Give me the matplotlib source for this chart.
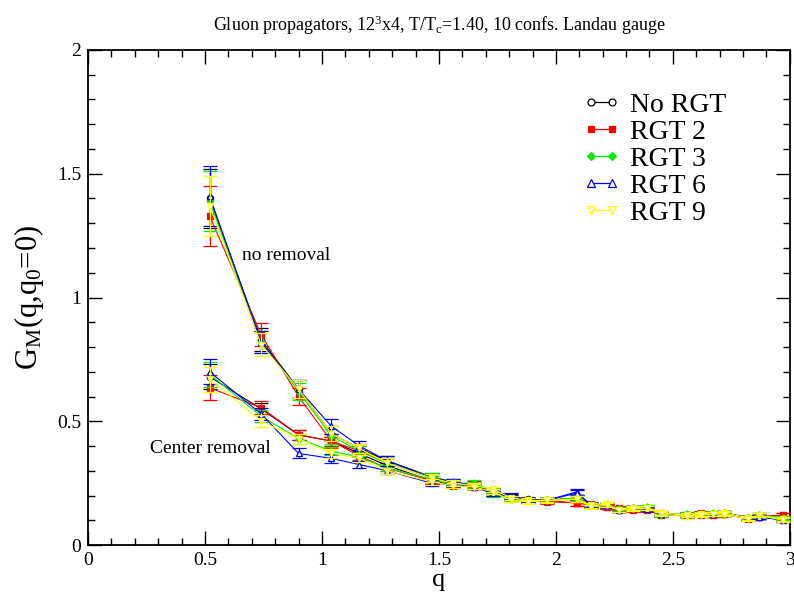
import matplotlib
matplotlib.use("Agg")
import matplotlib.pyplot as plt
from matplotlib.lines import Line2D
from matplotlib.ticker import MultipleLocator, FuncFormatter

plt.rcParams['font.family'] = ['Liberation Serif', 'DejaVu Serif']
plt.rcParams['mathtext.fontset'] = 'custom'
plt.rcParams['mathtext.rm'] = 'Liberation Serif'
plt.rcParams['mathtext.it'] = 'Liberation Serif'

# Momentum values
q = [0.52, 0.74, 0.90, 1.04, 1.16, 1.28, 1.47, 1.56, 1.65, 1.73, 1.81, 1.88, 1.96,
     2.09, 2.15, 2.22, 2.27, 2.33, 2.39, 2.45, 2.56, 2.62, 2.67, 2.72, 2.82, 2.87, 2.97]

labels = ["No RGT", "RGT 2", "RGT 3", "RGT 6", "RGT 9"]

# Full configurations (no removal)
full_norgt = [1.40, 0.83, 0.63, 0.45, 0.39, 0.34, 0.275, 0.255, 0.24, 0.22, 0.195, 0.185, 0.18,
              0.19, 0.16, 0.16, 0.14, 0.15, 0.145, 0.125, 0.12, 0.125, 0.125, 0.13, 0.11, 0.12, 0.105]
full_rgt2 = [1.33, 0.85, 0.60, 0.42, 0.38, 0.33, 0.27, 0.25, 0.245, 0.215, 0.19, 0.18, 0.18,
             0.17, 0.165, 0.155, 0.15, 0.14, 0.15, 0.13, 0.12, 0.13, 0.12, 0.125, 0.11, 0.115, 0.12]
full_rgt3 = [1.39, 0.82, 0.62, 0.44, 0.38, 0.33, 0.275, 0.25, 0.25, 0.22, 0.19, 0.18, 0.18,
             0.19, 0.16, 0.16, 0.145, 0.15, 0.155, 0.125, 0.125, 0.125, 0.13, 0.13, 0.11, 0.12, 0.11]
full_rgt6 = [1.41, 0.82, 0.63, 0.48, 0.40, 0.34, 0.27, 0.255, 0.24, 0.215, 0.2, 0.18, 0.18,
             0.215, 0.16, 0.16, 0.14, 0.15, 0.145, 0.125, 0.12, 0.125, 0.125, 0.13, 0.11, 0.115, 0.1]
full_rgt9 = [1.37, 0.81, 0.63, 0.45, 0.39, 0.33, 0.27, 0.25, 0.24, 0.225, 0.19, 0.18, 0.18,
             0.185, 0.16, 0.165, 0.14, 0.15, 0.15, 0.13, 0.12, 0.125, 0.125, 0.13, 0.11, 0.12, 0.105]

# Center-removed configurations
cr_norgt = [0.68, 0.55, 0.445, 0.42, 0.37, 0.32, 0.26, 0.245, 0.235, 0.21, 0.19, 0.18, 0.18,
            0.19, 0.16, 0.16, 0.14, 0.15, 0.145, 0.125, 0.12, 0.125, 0.125, 0.125, 0.11, 0.115, 0.105]
cr_rgt2 = [0.635, 0.555, 0.445, 0.42, 0.36, 0.31, 0.26, 0.24, 0.235, 0.21, 0.185, 0.18, 0.175,
           0.17, 0.16, 0.155, 0.145, 0.145, 0.14, 0.12, 0.12, 0.12, 0.12, 0.125, 0.105, 0.115, 0.12]
cr_rgt3 = [0.69, 0.52, 0.43, 0.38, 0.355, 0.31, 0.265, 0.245, 0.24, 0.205, 0.185, 0.18, 0.18,
           0.19, 0.16, 0.16, 0.145, 0.15, 0.155, 0.12, 0.125, 0.125, 0.125, 0.125, 0.11, 0.115, 0.11]
cr_rgt6 = [0.70, 0.53, 0.37, 0.35, 0.325, 0.30, 0.25, 0.245, 0.235, 0.21, 0.195, 0.18, 0.18,
           0.21, 0.16, 0.16, 0.14, 0.15, 0.145, 0.125, 0.12, 0.125, 0.125, 0.13, 0.11, 0.115, 0.1]
cr_rgt9 = [0.67, 0.50, 0.43, 0.37, 0.35, 0.30, 0.255, 0.24, 0.235, 0.215, 0.18, 0.175, 0.18,
           0.185, 0.155, 0.16, 0.14, 0.145, 0.15, 0.125, 0.115, 0.12, 0.125, 0.125, 0.105, 0.12, 0.1]

# Statistical errors
err_full = [0.12, 0.045, 0.035, 0.03, 0.02, 0.02, 0.015, 0.012, 0.012, 0.01, 0.01, 0.01, 0.01,
            0.012, 0.01, 0.01, 0.008, 0.008, 0.008, 0.008, 0.008, 0.008, 0.008, 0.008, 0.008, 0.008, 0.008]
err_cr = [0.05, 0.025, 0.02, 0.018, 0.015, 0.012, 0.012, 0.01, 0.01, 0.01, 0.008, 0.008, 0.008,
          0.012, 0.008, 0.008, 0.008, 0.008, 0.008, 0.008, 0.008, 0.008, 0.008, 0.008, 0.008, 0.008, 0.008]

full_sets = [full_norgt, full_rgt2, full_rgt3, full_rgt6, full_rgt9]
cr_sets = [cr_norgt, cr_rgt2, cr_rgt3, cr_rgt6, cr_rgt9]

styles = [
    dict(color="black", marker="o", mfc="white", mec="black"),
    dict(color="red", marker="s", mfc="red", mec="red"),
    dict(color="#00ee00", marker="D", mfc="#00ee00", mec="#00ee00"),
    dict(color="blue", marker="^", mfc="white", mec="blue"),
    dict(color="yellow", marker="v", mfc="white", mec="yellow"),
]
msizes = [4.5, 4.5, 3.5, 5, 5]

fig = plt.figure(figsize=(7.94, 5.95), dpi=100)
ax = fig.add_axes([0.1108, 0.084, 0.884, 0.832])

handles = []
for i in range(5):
    st = styles[i]
    for vals, errs in ((full_sets[i], err_full), (cr_sets[i], err_cr)):
        ax.errorbar(q, vals, yerr=errs, color=st["color"], lw=0.8, elinewidth=0.9,
                    capsize=5, capthick=0.9, marker=st["marker"], ms=msizes[i],
                    mfc=st["mfc"], mec=st["mec"], mew=0.9, zorder=3 + i)
    handles.append(Line2D([], [], color=st["color"], lw=0.9, marker=st["marker"],
                          ms=msizes[i] + 0.5, mfc=st["mfc"], mec=st["mec"], mew=0.9,
                          label=labels[i]))

ax.set_xlim(0, 3)
ax.set_ylim(0, 2)
ax.xaxis.set_major_locator(MultipleLocator(0.5))
ax.xaxis.set_minor_locator(MultipleLocator(0.1))
ax.yaxis.set_major_locator(MultipleLocator(0.5))
ax.yaxis.set_minor_locator(MultipleLocator(0.1))
fmt = FuncFormatter(lambda v, p: f"{v:g}")
ax.xaxis.set_major_formatter(fmt)
ax.yaxis.set_major_formatter(fmt)
ax.tick_params(which="both", direction="in", top=True, right=True, labelsize=14, width=1)
ax.tick_params(which="major", length=10, pad=5)
ax.tick_params(which="minor", length=5)
for s in ax.spines.values():
    s.set_linewidth(1.3)

ax.set_xlabel("q", fontsize=19, labelpad=0)
ax.set_ylabel(r"G$_\mathrm{M}$(q,q$_\mathrm{0}$=0)", fontsize=22, labelpad=8)
ax.set_title(r"Gluon propagators, 12$^\mathrm{3}$x4, T/T$_\mathrm{c}$=1.40, 10 confs. Landau gauge",
             fontsize=13, pad=14)

ax.text(0.66, 1.17, "no removal", fontsize=14, va="center", ha="left")
ax.text(0.265, 0.39, "Center removal", fontsize=14, va="center", ha="left")

leg = ax.legend(handles=handles, loc="upper left", bbox_to_anchor=(0.705, 0.915),
                frameon=False, fontsize=20, numpoints=2, handlelength=1.35,
                handletextpad=0.35, labelspacing=0.06, borderaxespad=0, borderpad=0)

fig.savefig("out.png", dpi=100)
